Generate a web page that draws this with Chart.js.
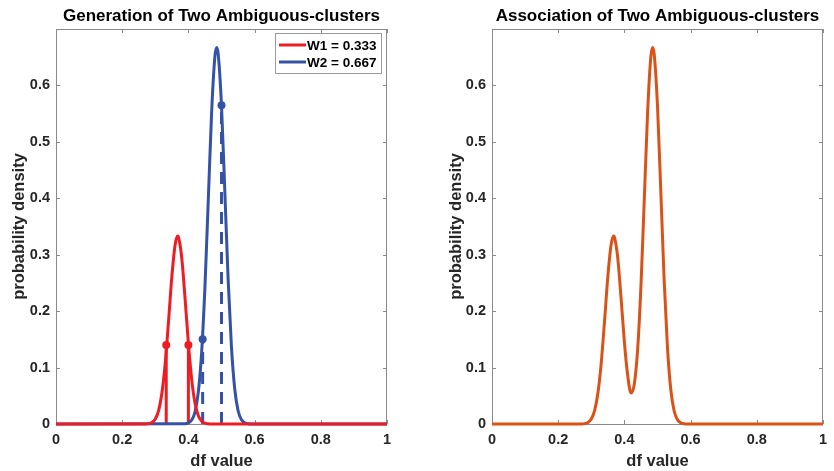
<!DOCTYPE html>
<html lang="en">
<head>
<meta charset="UTF-8">
<title>Two Ambiguous-clusters</title>
<script src="https://cdn.jsdelivr.net/npm/chart.js"></script>
<style>
  html, body { margin: 0; padding: 0; background: #fff; overflow: hidden; }
  .box { position: absolute; top: 0; width: 417px; height: 471px; }
  #leftBox { left: 0; }
  #rightBox { left: 417px; }
</style>
</head>
<body>
<div class="box" id="leftBox"><canvas id="left"></canvas></div>
<div class="box" id="rightBox"><canvas id="right"></canvas></div>
<script>
// W1 cluster (red)
const redX = [0, 0.27, 0.28, 0.29, 0.30, 0.31, 0.32, 0.33, 0.34, 0.35, 0.36, 0.3675, 0.37, 0.38, 0.39, 0.40, 0.41, 0.42, 0.43, 0.44, 0.45, 0.46, 0.47, 1];
const redY = [0, 0, 0.0007, 0.0027, 0.0087, 0.0236, 0.0548, 0.108, 0.182, 0.261, 0.318, 0.333, 0.331, 0.294, 0.222, 0.143, 0.0785, 0.0367, 0.0146, 0.005, 0.0014, 0.0004, 0, 0];
// W2 cluster (blue)
const blueX = [0, 0.39, 0.40, 0.41, 0.42, 0.43, 0.44, 0.45, 0.46, 0.47, 0.48, 0.4855, 0.49, 0.50, 0.51, 0.52, 0.53, 0.54, 0.55, 0.56, 0.57, 0.58, 0.59, 1];
const blueY = [0, 0.0005, 0.0019, 0.007, 0.0216, 0.0568, 0.127, 0.243, 0.396, 0.550, 0.651, 0.667, 0.656, 0.564, 0.413, 0.257, 0.137, 0.062, 0.024, 0.0079, 0.0022, 0.0005, 0, 0];
// stems with dots
const redStemX = [0.333, 0.400];
const redStemY = [0.14, 0.14];
const blueStemX = [0.443, 0.500];
const blueStemY = [0.15, 0.565];
// association (right plot)
const mixX = [0, 0.27, 0.28, 0.29, 0.30, 0.31, 0.32, 0.33, 0.34, 0.35, 0.36, 0.3675, 0.37, 0.38, 0.39, 0.40, 0.41, 0.42, 0.43, 0.44, 0.45, 0.46, 0.47, 0.48, 0.4855, 0.49, 0.50, 0.51, 0.52, 0.53, 0.54, 0.55, 0.56, 0.57, 0.58, 0.59, 1];
const mixY = [0, 0.0002, 0.0007, 0.0027, 0.0087, 0.0236, 0.0548, 0.108, 0.182, 0.261, 0.318, 0.333, 0.331, 0.294, 0.223, 0.145, 0.086, 0.055, 0.071, 0.132, 0.244, 0.396, 0.550, 0.651, 0.667, 0.656, 0.564, 0.413, 0.257, 0.137, 0.062, 0.024, 0.0079, 0.0022, 0.0005, 0, 0];

const legendLabels = ['W1 = 0.333', 'W2 = 0.667'];
const xTicks = [0, 0.2, 0.4, 0.6, 0.8, 1];
const yTicks = [0, 0.1, 0.2, 0.3, 0.4, 0.5, 0.6];

const RED = '#ee1d24';
const BLUE = '#3452a6';
const ORANGE = '#d95319';
const AXIS = '#8a8a8a';
const TXT = '#262626';
const FONT = "'Liberation Sans', Arial, sans-serif";

const pts = (xa, ya) => xa.map((x, i) => ({ x: x, y: ya[i] }));

function curve(xa, ya, color) {
  return {
    data: pts(xa, ya), borderColor: color, borderWidth: 3, pointRadius: 0,
    cubicInterpolationMode: 'monotone', fill: false, clip: false
  };
}

function stem(x, y, color, dash) {
  return {
    data: [{ x: x, y: 0 }, { x: x, y: y }],
    borderColor: color, backgroundColor: color, borderWidth: 3, borderDash: dash,
    pointRadius: c => c.dataIndex === 1 ? 4 : 0, pointBorderWidth: 0,
    fill: false, clip: false
  };
}

// axes box, inward ticks, title and legend drawn the MATLAB way
const matFrame = {
  id: 'matFrame',
  beforeDatasetsDraw(chart) {
    const { ctx, chartArea: a, scales } = chart;
    ctx.save();
    ctx.strokeStyle = AXIS;
    ctx.lineWidth = 1;
    ctx.strokeRect(a.left + 0.5, a.top + 0.5, a.right - a.left - 1, a.bottom - a.top);
    ctx.beginPath();
    xTicks.forEach(v => {
      const px = Math.round(scales.x.getPixelForValue(v)) + 0.5;
      ctx.moveTo(px, a.bottom); ctx.lineTo(px, a.bottom - 4);
      ctx.moveTo(px, a.top); ctx.lineTo(px, a.top + 4);
    });
    yTicks.forEach(v => {
      const py = Math.round(scales.y.getPixelForValue(v)) + 0.5;
      ctx.moveTo(a.left, py); ctx.lineTo(a.left + 4, py);
      ctx.moveTo(a.right, py); ctx.lineTo(a.right - 4, py);
    });
    ctx.stroke();
    ctx.restore();
  },
  afterDraw(chart, args, opts) {
    const { ctx, chartArea: a } = chart;
    ctx.save();
    ctx.fillStyle = '#000';
    ctx.font = 'bold 17px ' + FONT;
    ctx.textAlign = 'center';
    ctx.textBaseline = 'middle';
    ctx.fillText(opts.title, (a.left + a.right) / 2, 16);
    if (opts.legend) {
      const bx = a.right - 112, by = a.top + 4, bw = 106, bh = 40;
      ctx.fillStyle = '#fff';
      ctx.fillRect(bx, by, bw, bh);
      ctx.strokeStyle = '#9a9a9a';
      ctx.lineWidth = 1;
      ctx.strokeRect(bx + 0.5, by + 0.5, bw, bh);
      ctx.font = 'bold 13.5px ' + FONT;
      ctx.textAlign = 'left';
      [RED, BLUE].forEach((c, i) => {
        const ly = by + 12 + i * 17;
        ctx.strokeStyle = c;
        ctx.lineWidth = 3;
        ctx.beginPath(); ctx.moveTo(bx + 4, ly); ctx.lineTo(bx + 31, ly); ctx.stroke();
        ctx.fillStyle = '#000';
        ctx.fillText(legendLabels[i], bx + 32, ly + 1);
      });
    }
    ctx.restore();
  }
};

const fmt = v => (v > 0.65 && v < 0.75) ? '' : String(Math.round(v * 10) / 10);

function makeChart(id, datasets, title, legend, yWidth, yTitlePad, padRight) {
  return new Chart(document.getElementById(id), {
    type: 'scatter',
    data: { datasets: datasets.map(d => Object.assign({ showLine: true }, d)) },
    plugins: [matFrame],
    options: {
      responsive: true, maintainAspectRatio: false, animation: false,
      layout: { padding: { top: 29, right: padRight, bottom: 0, left: 0 } },
      plugins: {
        legend: { display: false }, tooltip: { enabled: false },
        matFrame: { title: title, legend: legend }
      },
      scales: {
        x: {
          type: 'linear', min: 0, max: 1,
          grid: { display: false, drawTicks: false }, border: { display: false },
          afterBuildTicks: s => { s.ticks = xTicks.map(v => ({ value: v })); },
          ticks: { padding: 7, color: TXT, font: { family: FONT, size: 14.5, weight: 'bold' }, callback: fmt, maxRotation: 0 },
          title: { display: true, text: 'df value', color: TXT, padding: { top: 0, bottom: 0 }, font: { family: FONT, size: 16.5, weight: 'bold' } },
          afterFit: s => { s.height = 47; }
        },
        y: {
          type: 'linear', min: 0, max: 0.7,
          grid: { display: false, drawTicks: false }, border: { display: false },
          afterBuildTicks: s => { s.ticks = yTicks.map(v => ({ value: v })); },
          ticks: { padding: 6, color: TXT, font: { family: FONT, size: 14.5, weight: 'bold' }, callback: fmt },
          title: { display: true, text: 'probability density', color: TXT, padding: { top: yTitlePad, bottom: 0 }, font: { family: FONT, size: 16.5, weight: 'bold' } },
          afterFit: s => { s.width = yWidth; }
        }
      }
    }
  });
}

makeChart('left', [
  curve(redX, redY, RED),
  curve(blueX, blueY, BLUE),
  stem(redStemX[0], redStemY[0], RED, []),
  stem(redStemX[1], redStemY[1], RED, []),
  stem(blueStemX[0], blueStemY[0], BLUE, [12, 8]),
  stem(blueStemX[1], blueStemY[1], BLUE, [12, 8])
], 'Generation of Two Ambiguous-clusters', true, 56, 10, 30);

makeChart('right', [
  curve(mixX, mixY, ORANGE)
], 'Association of Two Ambiguous-clusters', false, 75, 30, 11);
</script>
</body>
</html>
